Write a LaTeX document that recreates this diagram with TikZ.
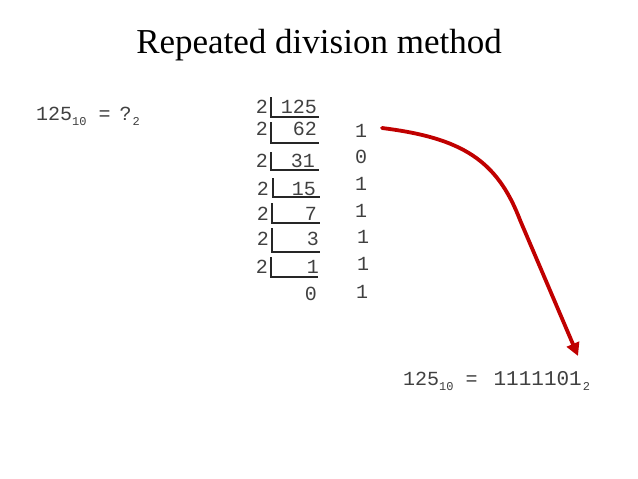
\documentclass[tikz,border=0pt]{standalone}
\usepackage{fontspec}
\setmainfont{Liberation Serif}
\newfontfamily\monofont{Liberation Mono}
\usetikzlibrary{arrows.meta}
\definecolor{txtgray}{RGB}{64,64,64}
\definecolor{arrowred}{RGB}{192,0,0}
\newcommand{\subtxt}[1]{\raisebox{-0.28em}{\fontsize{12}{12}\selectfont #1}}
\begin{document}
\begin{tikzpicture}[x=1pt,y=-1pt,
  mono/.style={font=\monofont\fontsize{20}{24}\selectfont, text=txtgray, inner sep=0pt},
  divisor/.style={mono, anchor=base east},
  quot/.style={mono, anchor=base east},
  rem/.style={mono, anchor=base},
  bracket/.style={draw=black!85, line width=1.4pt},
  bigarrow/.style={draw=arrowred, line width=3.8pt, -{Triangle[length=13pt,width=13pt]}}]
\useasboundingbox (0,0) rectangle (638,479);
\node[font=\fontsize{35}{40}\selectfont, inner sep=0pt, anchor=base] (title) at (319,53) {Repeated division method};
\node[mono, anchor=base west] (q) at (36,120) {125\subtxt{10} =\hspace{-3pt} ?\hspace{1pt}\subtxt{2}};
\node[mono, anchor=base west] (ans) at (403,385) {125\subtxt{10} =\hspace{4pt} {\fontsize{21}{24}\selectfont 1111101}\hspace{1pt}\subtxt{2}};
% divisors
\node[divisor] (d1) at (268,113) {2};
\node[divisor] (d2) at (268,135) {2};
\node[divisor] (d3) at (268,167) {2};
\node[divisor] (d4) at (269,195) {2};
\node[divisor] (d5) at (269,220) {2};
\node[divisor] (d6) at (269,245) {2};
\node[divisor] (d7) at (268,273) {2};
% quotients
\node[quot] (n1) at (317,113) {125};
\node[quot] (n2) at (317,135) {62};
\node[quot] (n3) at (315,167) {31};
\node[quot] (n4) at (316,195) {15};
\node[quot] (n5) at (317,220) {7};
\node[quot] (n6) at (319,245) {3};
\node[quot] (n7) at (319,273) {1};
\node[quot] (n8) at (317,300) {0};
% remainders
\node[rem] (r1) at (361,137) {1};
\node[rem] (r2) at (361,163) {0};
\node[rem] (r3) at (361,190) {1};
\node[rem] (r4) at (361,217) {1};
\node[rem] (r5) at (363,243) {1};
\node[rem] (r6) at (363,270) {1};
\node[rem] (r7) at (362,298) {1};
% brackets
\draw[bracket] (271,97) -- (271,117) -- (319,117);
\draw[bracket] (271,122) -- (271,143) -- (319,143);
\draw[bracket] (271,152) -- (271,170) -- (319,170);
\draw[bracket] (273,178) -- (273,197) -- (320,197);
\draw[bracket] (272,203) -- (272,223) -- (320,223);
\draw[bracket] (272,228) -- (272,252) -- (320,252);
\draw[bracket] (271,257) -- (271,277) -- (318,277);
% arrow
\coordinate (as) at (382,128);
\coordinate (ab) at (520,220);
\coordinate (ae) at (578,356);
\draw[bigarrow, line cap=round] (as) .. controls (462,138) and (497,160) .. (ab) -- (ae);
\end{tikzpicture}
\end{document}
